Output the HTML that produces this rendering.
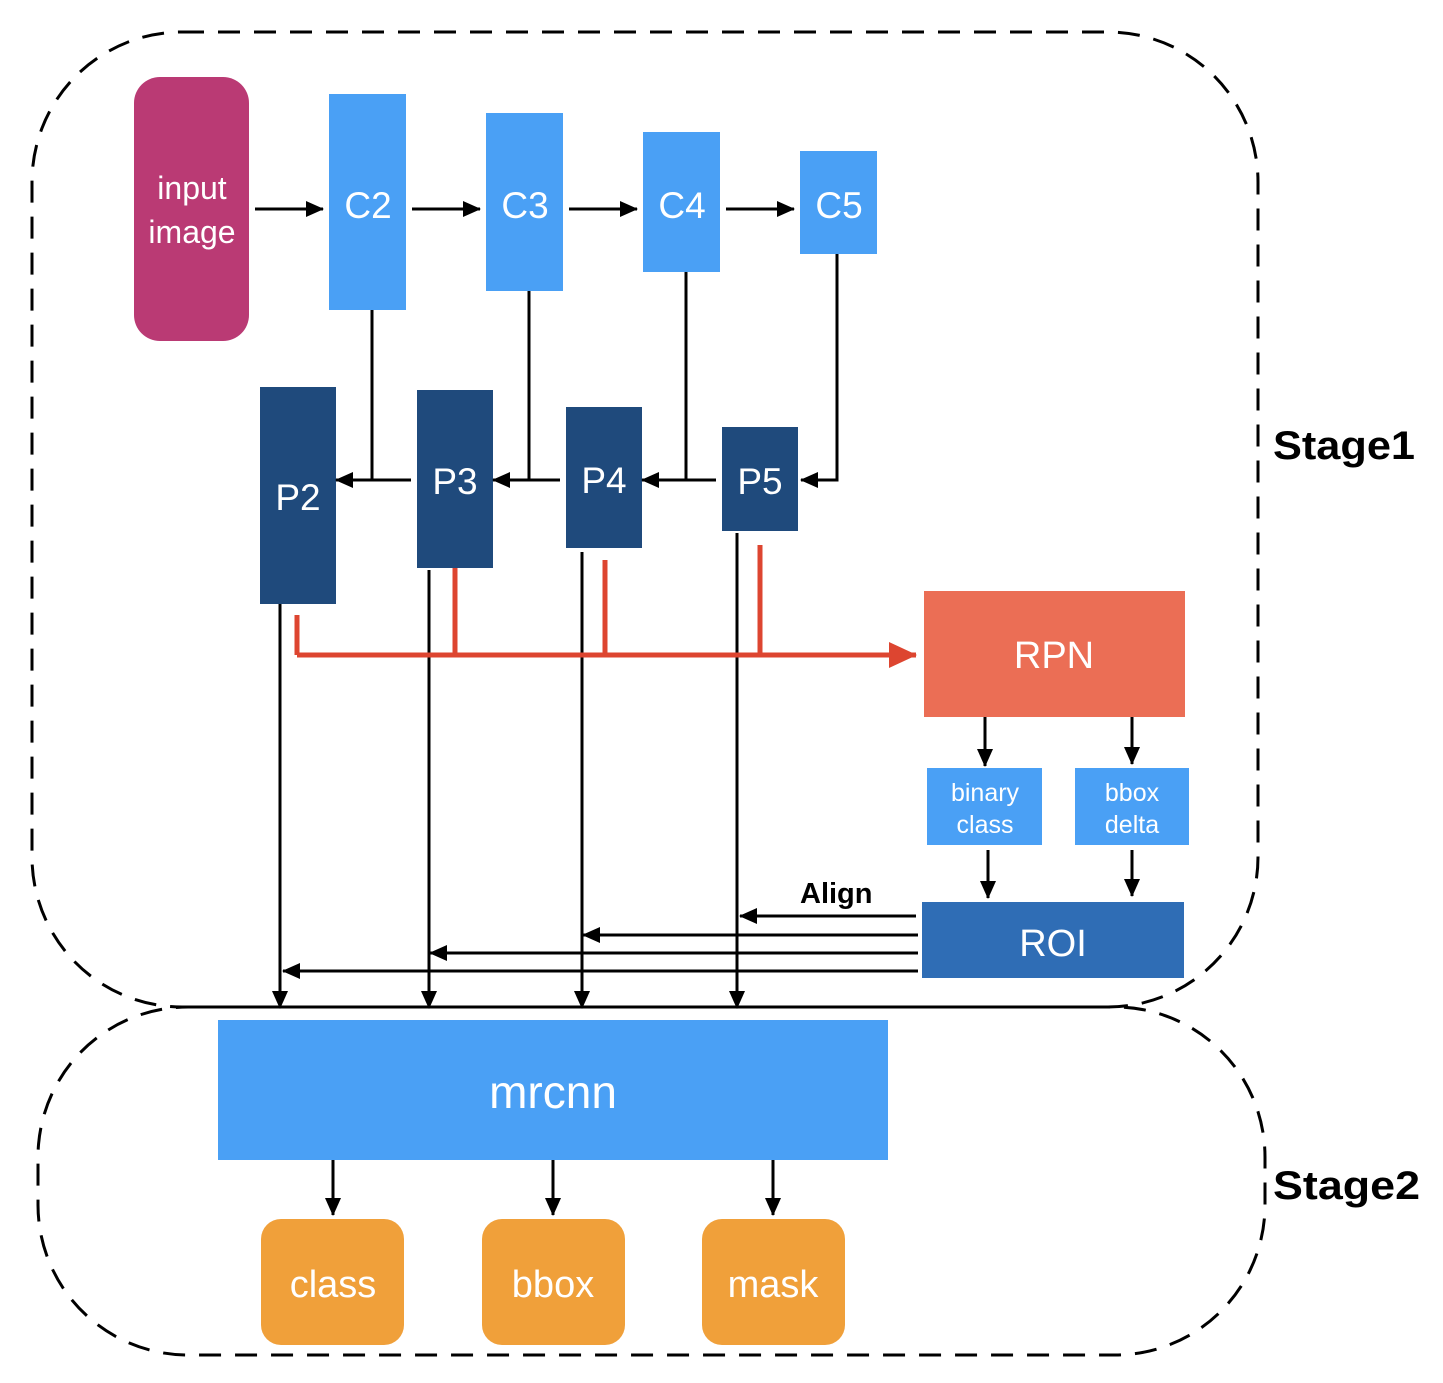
<!DOCTYPE html>
<html><head><meta charset="utf-8"><style>body{margin:0;background:#fff}svg{display:block}text{font-family:"Liberation Sans",sans-serif}</style></head><body>
<svg width="1443" height="1383" viewBox="0 0 1443 1383" xmlns="http://www.w3.org/2000/svg">
<defs>
<marker id="ab" markerWidth="18" markerHeight="16" refX="17" refY="8" orient="auto" markerUnits="userSpaceOnUse"><path d="M0,0 L18,8 L0,16 z" fill="#000"/></marker>
<marker id="ar" markerWidth="28" markerHeight="26" refX="27" refY="13" orient="auto" markerUnits="userSpaceOnUse"><path d="M0,0 L28,13 L0,26 z" fill="#DD4530"/></marker>
</defs>
<g fill="none" stroke="#000" stroke-width="3" stroke-dasharray="22,14">
<rect x="32" y="32" width="1226" height="975" rx="150"/>
<rect x="38" y="1007" width="1227" height="348" rx="150"/>
</g>
<rect x="134" y="77" width="115" height="264" rx="26" fill="#BA3A74"/>
<g fill="#4AA0F5">
<rect x="329" y="94" width="77" height="216"/>
<rect x="486" y="113" width="77" height="178"/>
<rect x="643" y="132" width="77" height="140"/>
<rect x="800" y="151" width="77" height="103"/>
<rect x="927" y="768" width="115" height="77"/>
<rect x="1075" y="768" width="114" height="77"/>
<rect x="218" y="1020" width="670" height="140"/>
</g>
<g fill="#1F4A7C">
<rect x="260" y="387" width="76" height="217"/>
<rect x="417" y="390" width="76" height="178"/>
<rect x="566" y="407" width="76" height="141"/>
<rect x="722" y="427" width="76" height="104"/>
</g>
<rect x="924" y="591" width="261" height="126" fill="#EB6E55"/>
<rect x="922" y="902" width="262" height="76" fill="#2F6DB5"/>
<g fill="#F0A03A">
<rect x="261" y="1219" width="143" height="126" rx="20"/>
<rect x="482" y="1219" width="143" height="126" rx="20"/>
<rect x="702" y="1219" width="143" height="126" rx="20"/>
</g>
<g stroke="#000" stroke-width="3" fill="none" marker-end="url(#ab)">
<line x1="255" y1="209" x2="323" y2="209"/>
<line x1="412" y1="209" x2="480" y2="209"/>
<line x1="569" y1="209" x2="637" y2="209"/>
<line x1="726" y1="209" x2="794" y2="209"/>
<polyline points="372,310 372,480 336,480"/>
<polyline points="411,480 372,480" marker-end="none"/>
<polyline points="529,291 529,480 493,480"/>
<polyline points="560,480 529,480" marker-end="none"/>
<polyline points="686,272 686,480 642,480"/>
<polyline points="716,480 686,480" marker-end="none"/>
<polyline points="837,254 837,480 801,480"/>
<line x1="985" y1="717" x2="985" y2="766"/>
<line x1="1132" y1="717" x2="1132" y2="764"/>
<line x1="988" y1="850" x2="988" y2="898"/>
<line x1="1132" y1="850" x2="1132" y2="896"/>
<line x1="916" y1="916" x2="740" y2="916"/>
<line x1="918" y1="935" x2="583" y2="935"/>
<line x1="918" y1="953" x2="430" y2="953"/>
<line x1="918" y1="971" x2="283" y2="971"/>
<line x1="280" y1="604" x2="280" y2="1008"/>
<line x1="429" y1="570" x2="429" y2="1008"/>
<line x1="582" y1="552" x2="582" y2="1008"/>
<line x1="737" y1="533" x2="737" y2="1008"/>
<line x1="333" y1="1160" x2="333" y2="1215"/>
<line x1="553" y1="1160" x2="553" y2="1215"/>
<line x1="773" y1="1160" x2="773" y2="1215"/>
</g>
<g stroke="#DD4530" stroke-width="5" fill="none">
<line x1="297" y1="615" x2="297" y2="655"/>
<line x1="455" y1="568" x2="455" y2="655"/>
<line x1="605" y1="560" x2="605" y2="655"/>
<line x1="760" y1="545" x2="760" y2="655"/>
<line x1="297" y1="655" x2="916" y2="655" marker-end="url(#ar)"/>
</g>
<g fill="#fff" text-anchor="middle">
<text x="192" y="199" font-size="32">input</text>
<text x="192" y="243" font-size="32">image</text>
<text x="368" y="218" font-size="37">C2</text>
<text x="525" y="218" font-size="37">C3</text>
<text x="682" y="218" font-size="37">C4</text>
<text x="839" y="218" font-size="37">C5</text>
<text x="298" y="510" font-size="37">P2</text>
<text x="455" y="494" font-size="37">P3</text>
<text x="604" y="493" font-size="37">P4</text>
<text x="760" y="494" font-size="37">P5</text>
<text x="1054" y="668" font-size="38">RPN</text>
<text x="985" y="801" font-size="25">binary</text>
<text x="985" y="833" font-size="25">class</text>
<text x="1132" y="801" font-size="25">bbox</text>
<text x="1132" y="833" font-size="25">delta</text>
<text x="1053" y="956" font-size="38">ROI</text>
<text x="553" y="1108" font-size="46">mrcnn</text>
<text x="333" y="1297" font-size="38">class</text>
<text x="553" y="1297" font-size="38">bbox</text>
<text x="773" y="1297" font-size="38">mask</text>
</g>
<g font-weight="bold" fill="#000">
<text x="800" y="903" font-size="29">Align</text>
<text x="1273" y="459" font-size="40" textLength="142" lengthAdjust="spacingAndGlyphs">Stage1</text>
<text x="1273" y="1199" font-size="40" textLength="147" lengthAdjust="spacingAndGlyphs">Stage2</text>
</g>
</svg>
</body></html>
